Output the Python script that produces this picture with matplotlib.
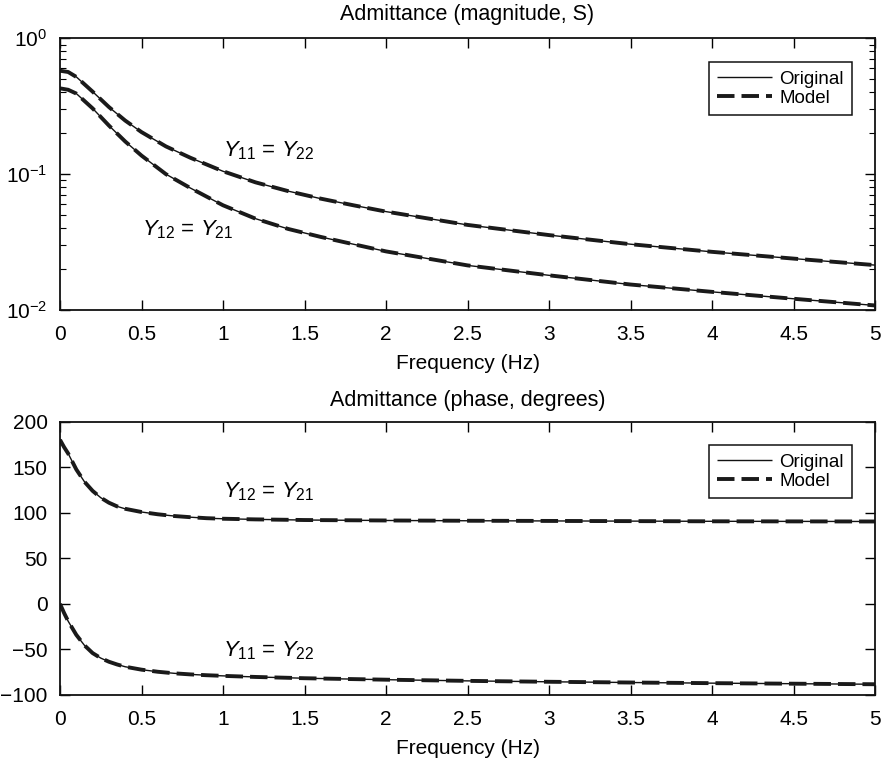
import matplotlib
matplotlib.use("Agg")
import matplotlib.pyplot as plt
from matplotlib.ticker import LogLocator, NullFormatter

plt.rcParams['font.family'] = ['Liberation Sans', 'DejaVu Sans']
plt.rcParams['mathtext.fontset'] = 'custom'
plt.rcParams['mathtext.rm'] = 'Liberation Sans'
plt.rcParams['mathtext.it'] = 'Liberation Sans:italic'
plt.rcParams['mathtext.bf'] = 'Liberation Sans:bold'

# ---------------- data ----------------
freq_mag = [0, 0.05, 0.1, 0.2, 0.3, 0.4, 0.5, 0.65, 0.8, 1.0, 1.2, 1.4, 1.6, 1.8,
            2.0, 2.5, 3.0, 3.5, 4.0, 4.5, 5.0]
y11_mag = [0.577, 0.565, 0.520, 0.405, 0.312, 0.248, 0.204, 0.160, 0.132, 0.105,
           0.087, 0.075, 0.066, 0.059, 0.053, 0.0423, 0.0356, 0.0305, 0.0268,
           0.0239, 0.0214]
y12_mag = [0.428, 0.418, 0.392, 0.305, 0.228, 0.174, 0.137, 0.100, 0.0790, 0.0590,
           0.0470, 0.0395, 0.0345, 0.0305, 0.0270, 0.0213, 0.0180, 0.0154, 0.0136,
           0.0121, 0.0108]
y11_mag_model = list(y11_mag)
y12_mag_model = list(y12_mag)

freq_ph = [0, 0.025, 0.05, 0.1, 0.15, 0.2, 0.25, 0.3, 0.35, 0.4, 0.5, 0.6, 0.7,
           0.8, 0.9, 1.0, 1.2, 1.5, 2.0, 2.5, 3.0, 3.5, 4.0, 4.5, 5.0]
y12_ph = [180, 172, 165, 147.5, 134, 124, 116.5, 111, 107, 104.3, 100.8, 98.3,
          96.4, 95.1, 94.0, 93.4, 92.7, 92.0, 91.5, 91.2, 91.0, 90.8, 90.6, 90.5,
          90.4]
y11_ph = [0, -10, -19, -34, -45.5, -54, -59.5, -63.5, -66.5, -69, -72.2, -74.5,
          -76.2, -77.4, -78.3, -79, -80.2, -81.6, -83.2, -84.5, -85.5, -86.3, -87,
          -87.6, -88.2]
y11_ph_model = list(y11_ph)
y12_ph_model = list(y12_ph)

xticks = [0, 0.5, 1, 1.5, 2, 2.5, 3, 3.5, 4, 4.5, 5]
xticklabels = ['0', '0.5', '1', '1.5', '2', '2.5', '3', '3.5', '4', '4.5', '5']
ph_ticks = [-100, -50, 0, 50, 100, 150, 200]

# ---------------- figure ----------------
W, H = 886, 759
fig = plt.figure(figsize=(W / 100, H / 100), dpi=100)

def rect(x0, y0, x1, y1):
    return [x0 / W, 1 - y1 / H, (x1 - x0) / W, (y1 - y0) / H]

ax1 = fig.add_axes(rect(60, 38.3, 875, 310))
ax2 = fig.add_axes(rect(60, 421.6, 875, 695))

FS = 15
orig_kw = dict(color='#111111', lw=1.0, solid_capstyle='butt')
model_kw = dict(color='#1a1a1a', lw=2.8, linestyle=(0, (4.5, 1.8)))

def style(ax):
    ax.tick_params(direction='in', which='both', top=True, right=True,
                   labelsize=FS)
    ax.tick_params(axis='x', which='both', pad=11)
    ax.tick_params(axis='y', which='both', pad=9)
    ax.tick_params(which='major', length=7, width=1)
    ax.tick_params(which='minor', length=4, width=0.8)
    for s in ax.spines.values():
        s.set_linewidth(1.3)
        s.set_color('#111111')
    ax.set_xlim(0, 5)
    ax.set_xticks(xticks)
    ax.set_xticklabels(xticklabels)
    ax.set_xlabel('Frequency (Hz)', fontsize=FS, labelpad=7)

def add_legend(ax):
    leg = ax.legend(loc='upper right', bbox_to_anchor=(0.972, 0.913),
                    borderaxespad=0, fontsize=13.5, handlelength=2.9,
                    fancybox=False, edgecolor='#111111', framealpha=1,
                    borderpad=0.45, labelspacing=0.1, handletextpad=0.4)
    leg.get_frame().set_linewidth(1.1)

# top: magnitude
ax1.plot(freq_mag, y11_mag, label='Original', **orig_kw)
ax1.plot(freq_mag, y11_mag_model, label='Model', **model_kw)
ax1.plot(freq_mag, y12_mag, **orig_kw)
ax1.plot(freq_mag, y12_mag_model, **model_kw)
ax1.set_yscale('log')
ax1.set_ylim(0.01, 1)
ax1.yaxis.set_major_locator(LogLocator(base=10, numticks=5))
ax1.yaxis.set_minor_locator(LogLocator(base=10, subs=range(2, 10), numticks=20))
ax1.yaxis.set_minor_formatter(NullFormatter())
style(ax1)
ax1.set_title('Admittance (magnitude, S)', fontsize=15.5, pad=13.5)
ax1.text(1.0, 0.15, r'$Y_{11}$ = $Y_{22}$', fontsize=16, va='center', ha='left')
ax1.text(0.50, 0.0388, r'$Y_{12}$ = $Y_{21}$', fontsize=16, va='center', ha='left')
add_legend(ax1)

# bottom: phase
ax2.plot(freq_ph, y12_ph, label='Original', **orig_kw)
ax2.plot(freq_ph, y12_ph_model, label='Model', **model_kw)
ax2.plot(freq_ph, y11_ph, **orig_kw)
ax2.plot(freq_ph, y11_ph_model, **model_kw)
ax2.set_ylim(-100, 200)
ax2.set_yticks(ph_ticks)
style(ax2)
ax2.set_title('Admittance (phase, degrees)', fontsize=15.5, pad=11)
ax2.text(1.0, 123, r'$Y_{12}$ = $Y_{21}$', fontsize=16, va='center', ha='left')
ax2.text(1.0, -51.5, r'$Y_{11}$ = $Y_{22}$', fontsize=16, va='center', ha='left')
add_legend(ax2)

fig.savefig('out.png', dpi=100)
